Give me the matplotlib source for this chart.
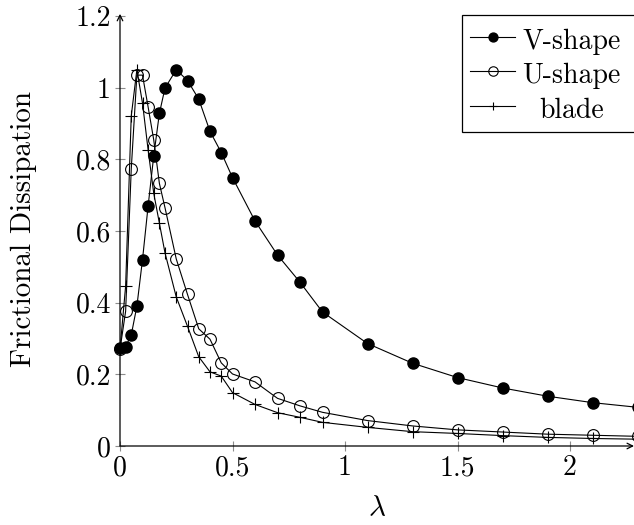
import matplotlib
matplotlib.use("Agg")
import matplotlib.pyplot as plt
from matplotlib.patches import Rectangle

plt.rcParams["font.family"] = ["cmr10", "DejaVu Serif"]
plt.rcParams["mathtext.fontset"] = "cm"
plt.rcParams["axes.unicode_minus"] = False

lam = [0, 0.025, 0.05, 0.075, 0.1, 0.125, 0.15, 0.175, 0.2, 0.25, 0.3, 0.35, 0.4,
       0.45, 0.5, 0.6, 0.7, 0.8, 0.9, 1.1, 1.3, 1.5, 1.7, 1.9, 2.1, 2.3]
v_shape = [0.274, 0.277, 0.31, 0.39, 0.52, 0.67, 0.81, 0.928, 0.999, 1.05, 1.02, 0.968,
           0.878, 0.819, 0.749, 0.628, 0.533, 0.457, 0.374, 0.286, 0.231, 0.191, 0.162,
           0.139, 0.121, 0.108]
u_shape = [0.27, 0.376, 0.773, 1.035, 1.035, 0.946, 0.854, 0.733, 0.665, 0.522, 0.423,
           0.327, 0.298, 0.232, 0.201, 0.179, 0.133, 0.112, 0.094, 0.071, 0.056, 0.045,
           0.039, 0.033, 0.030, 0.027]
blade = [0.27, 0.446, 0.921, 1.05, 0.957, 0.826, 0.705, 0.622, 0.539, 0.416, 0.334,
         0.249, 0.207, 0.195, 0.149, 0.116, 0.093, 0.080, 0.066, 0.052, 0.040, 0.035,
         0.029, 0.024, 0.021, 0.019]

xticks = [0, 0.5, 1, 1.5, 2]
xtick_labels = ["0", "0.5", "1", "1.5", "2"]
yticks = [0, 0.2, 0.4, 0.6, 0.8, 1, 1.2]
ytick_labels = ["0", "0.2", "0.4", "0.6", "0.8", "1", "1.2"]

fs = 20
fig = plt.figure(figsize=(6.34, 5.25), dpi=100)
ax = fig.add_axes([120 / 634, 79 / 525, 514 / 634, 430 / 525])

lw = 0.8
ax.plot(lam, v_shape, color="black", lw=lw, marker="o", ms=8, mfc="black",
        mec="black", label="V-shape", clip_on=False, zorder=3)
ax.plot(lam, u_shape, color="black", lw=lw, marker="o", ms=8.5, mfc="none",
        mec="black", mew=0.8, label="U-shape", clip_on=False, zorder=3)
ax.plot(lam, blade, color="black", lw=lw, marker="+", ms=8, mew=0.8,
        label="blade", clip_on=False, zorder=3)

ax.set_xlim(0, 514 / 225)
ax.set_ylim(0, 1.2)
ax.set_xticks(xticks)
ax.set_xticklabels(xtick_labels)
ax.set_yticks(yticks)
ax.set_yticklabels(ytick_labels)
ax.tick_params(direction="inout", length=7, width=0.8, color="0.55",
               labelsize=fs, pad=3)

for s in ax.spines.values():
    s.set_visible(False)
arrow = dict(arrowstyle="->", color="black", lw=0.9, shrinkA=0, shrinkB=0)
ax.annotate("", xy=(1, 0), xytext=(0, 0), xycoords="axes fraction",
            arrowprops=arrow, annotation_clip=False)
ax.annotate("", xy=(0, 1.005), xytext=(0, 0), xycoords="axes fraction",
            arrowprops=arrow, annotation_clip=False)

ax.set_xlabel(r"$\lambda$", fontsize=fs + 1)
ax.xaxis.set_label_coords(0.5, -0.115)
ax.set_ylabel("Frictional Dissipation", fontsize=fs + 1)
ax.yaxis.set_label_coords(-0.162, 0.505)

# legend box runs past the right edge of the picture, as in the original
fig.add_artist(Rectangle((462 / 634, 1 - 132 / 525), 190 / 634, 117 / 525,
                         transform=fig.transFigure, facecolor="white",
                         edgecolor="black", lw=0.9, zorder=4))
leg = fig.legend(loc="upper left", bbox_to_anchor=(462 / 634, 1 - 17 / 525),
                 fontsize=fs, frameon=False, handlelength=1.62,
                 handletextpad=0.25, handleheight=1.2, borderpad=0.3,
                 labelspacing=0.17, borderaxespad=0, markerscale=0.8)
leg.set_zorder(5)

# centre the legend entries like pgfplots does
fig.canvas.draw()
renderer = fig.canvas.get_renderer()
widths = [t.get_window_extent(renderer).width for t in leg.get_texts()]
w = max(widths)
for t, tw in zip(leg.get_texts(), widths):
    t.set_position(((w - tw) / 2, 0))

fig.savefig("out.png", dpi=100)
